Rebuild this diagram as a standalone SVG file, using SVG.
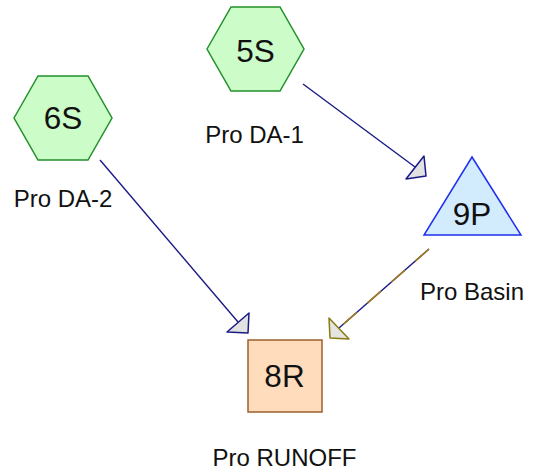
<svg xmlns="http://www.w3.org/2000/svg" width="534" height="475" viewBox="0 0 534 475">
<style>
.hex{fill:#ccfcc8;stroke:#22902a;stroke-width:1.5}
.tri{fill:#d2ecfe;stroke:#1f2ff0;stroke-width:1.5}
.box{fill:#ffdcbc;stroke:#9c5f2c;stroke-width:1.5}
.nt{font-family:"Liberation Sans",Arial,sans-serif;font-size:31.5px;fill:#111;text-anchor:middle}
.lb{font-family:"Liberation Sans",Arial,sans-serif;font-size:24px;fill:#111;text-anchor:middle}
.ln{stroke:#1a1a86;stroke-width:1.4;fill:none}
.ah{fill:#e2e2e2;stroke:#1a1a86;stroke-width:1.5;stroke-linejoin:round}
.dash{stroke:#a07a1c;stroke-width:1.6;fill:none;stroke-dasharray:18 14}
.ah2{fill:#e4e4e0;stroke:#8a7a10;stroke-width:1.5;stroke-linejoin:round}
</style>
<g id="connectors">
<line class="ln" x1="303" y1="84" x2="415" y2="167"/>
<polygon class="ah" points="426,176 406,179 424,156"/>
<line class="ln" x1="100" y1="160" x2="238" y2="322"/>
<polygon class="ah" points="248,333 227,332 249,313"/>
<line class="ln" x1="429" y1="249" x2="339" y2="328"/>
<line class="dash" x1="429" y1="249" x2="339" y2="328"/>
<polygon class="ah2" points="330,338 329,318 349,339"/>
</g>
<g id="n5S">
<polygon class="hex" points="207,49 231,7 280,7 304,49 280,91 231,91"/>
<text class="nt" x="255.5" y="61.5">5S</text>
<text class="lb" x="254.5" y="143">Pro DA-1</text>
</g>
<g id="n6S">
<polygon class="hex" points="14,118 38,76 88,76 112,118 88,160 38,160"/>
<text class="nt" x="63" y="128.5">6S</text>
<text class="lb" x="63" y="207">Pro DA-2</text>
</g>
<g id="n9P">
<polygon class="tri" points="472,157 521,235 424,235"/>
<text class="nt" x="472" y="224.5">9P</text>
<text class="lb" x="472" y="300">Pro Basin</text>
</g>
<g id="n8R">
<rect class="box" x="248" y="340" width="74" height="72"/>
<text class="nt" x="284.5" y="387">8R</text>
<text class="lb" x="284.5" y="466">Pro RUNOFF</text>
</g>
</svg>
